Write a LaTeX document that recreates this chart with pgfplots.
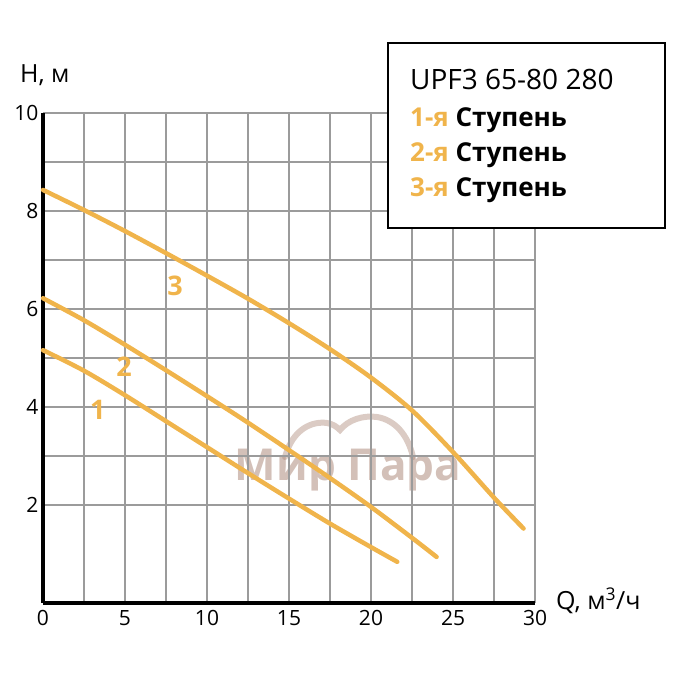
\documentclass[border=0pt]{standalone}
\usepackage{fontspec}
\setmainfont{Open Sans}
\usepackage{pgfplots}
\pgfplotsset{compat=1.18}
\definecolor{curve}{RGB}{240,180,75}
\definecolor{gridc}{RGB}{155,155,155}
\definecolor{wm}{RGB}{175,140,125}

\pgfplotstableread{
x y
0 5.16
2.5 4.74
5 4.24
7.5 3.71
10 3.18
12.5 2.65
15 2.13
17.5 1.62
20 1.14
21.6 0.84
}\stepone
\pgfplotstableread{
x y
0 6.22
2.5 5.77
5 5.27
7.5 4.75
10 4.22
12.5 3.68
15 3.12
17.5 2.55
20 1.96
22.5 1.33
24 0.94
}\steptwo
\pgfplotstableread{
x y
0 8.43
2.5 8.02
5 7.59
7.5 7.14
10 6.68
12.5 6.21
15 5.71
17.5 5.18
20 4.60
22.5 3.93
25 3.08
27.5 2.15
29.3 1.52
}\stepthree

\begin{document}
\begin{tikzpicture}[x=1pt,y=1pt]
\useasboundingbox (-43,-97) rectangle (657,603);
% watermark
\draw[wm, opacity=0.45, line width=6pt, line cap=round] (242,146) .. controls (250,175) and (270,182) .. (284,180) .. controls (290,179) and (294,176) .. (297,173) .. controls (305,183) and (320,188) .. (334,186) .. controls (352,183) and (365,168) .. (370,146);
\node[wm, opacity=0.55, font=\bfseries\fontsize{44}{44}\selectfont] at (305,133) {Мир Пара};
\begin{axis}[
  at={(0,0)}, anchor=south west,
  scale only axis, width=492pt, height=490pt,
  xmin=0, xmax=30, ymin=0, ymax=10,
  xtick={0,5,...,30}, ytick={2,4,6,8,10},
  minor x tick num=1, minor y tick num=1,
  grid=both,
  major grid style={gridc, line width=1.5pt},
  minor grid style={gridc, line width=1.5pt},
  axis x line*=bottom, axis y line*=left,
  axis line style={black, line width=4.5pt, -},
  major tick length=0pt, minor tick length=0pt,
  tick label style={font=\fontsize{21}{21}\selectfont},
  /pgf/number format/assume math mode=true,
  xticklabel style={yshift=-4pt},
  yticklabel style={xshift=-1pt},
  clip=false,
]
\addplot[curve, line width=4.5pt, line cap=round, smooth, tension=0.5] table[x=x,y=y] {\stepone};
\addplot[curve, line width=4.5pt, line cap=round, smooth, tension=0.5] table[x=x,y=y] {\steptwo};
\addplot[curve, line width=4.5pt, line cap=round, smooth, tension=0.5] table[x=x,y=y] {\stepthree};
\node[curve, font=\bfseries\fontsize{27}{27}\selectfont] at (axis cs:8.05,6.47) {3};
\node[curve, font=\bfseries\fontsize{27}{27}\selectfont] at (axis cs:4.94,4.82) {2};
\node[curve, font=\bfseries\fontsize{27}{27}\selectfont] at (axis cs:3.35,3.94) {1};
\end{axis}
% axis labels
\node[anchor=base west, inner sep=0pt, font=\fontsize{25}{25}\selectfont] at (-23,520) {H, м};
\node[anchor=base west, inner sep=0pt, font=\fontsize{25}{25}\selectfont] at (513,-7) {Q, м\textsuperscript{3}/ч};
% legend box
\draw[black, line width=2.5pt, fill=white] (345,560) rectangle (622,375);
\node[anchor=base west, inner sep=0pt, font=\fontsize{28}{28}\selectfont] at (367,513) {UPF3 65-80 280};
\node[anchor=base west, inner sep=0pt, font=\bfseries\fontsize{26}{26}\selectfont] at (367,476) {\textcolor{curve}{1-я} Ступень};
\node[anchor=base west, inner sep=0pt, font=\bfseries\fontsize{26}{26}\selectfont] at (367,441) {\textcolor{curve}{2-я} Ступень};
\node[anchor=base west, inner sep=0pt, font=\bfseries\fontsize{26}{26}\selectfont] at (367,406) {\textcolor{curve}{3-я} Ступень};
\end{tikzpicture}
\end{document}
